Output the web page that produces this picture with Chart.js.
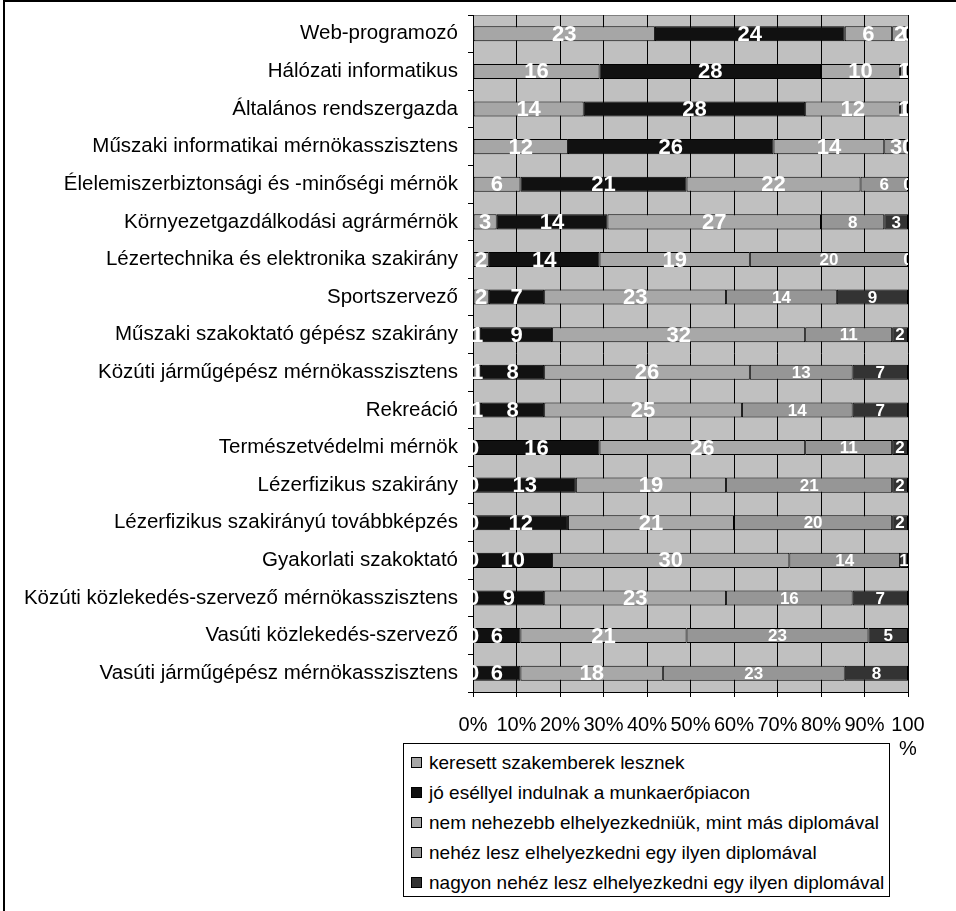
<!DOCTYPE html>
<html>
<head>
<meta charset="utf-8">
<script src="https://cdn.jsdelivr.net/npm/chart.js@4.4.0/dist/chart.umd.min.js"></script>
<style>
  body { margin: 0; background: #fff; font-family: "Liberation Sans", Arial, sans-serif; }
  #frame { position: absolute; left: 3px; top: 0; width: 2000px; height: 2000px; border-left: 2px solid #000; border-top: 2px solid #000; }
  #wrap { position: absolute; left: 0; top: 0; }
  #legend { position: absolute; left: 403px; top: 743px; width: 487px; height: 154px; border: 1px solid #000; background: #fff; padding-top: 4px; box-sizing: border-box; }
  .item { height: 30px; line-height: 30px; font-size: 19px; color: #000; white-space: nowrap; }
  .sw { display: inline-block; width: 9px; height: 9px; border: 1px solid #000; margin: 0 7px 0 7px; vertical-align: 1px; }
</style>
</head>
<body>
<div id="frame"></div>
<div id="wrap"><canvas id="chart" width="956" height="760"></canvas></div>
<div id="legend"></div>

<script>
// categories (top to bottom)
const szakok = [
  'Web-programozó',
  'Hálózati informatikus',
  'Általános rendszergazda',
  'Műszaki informatikai mérnökasszisztens',
  'Élelemiszerbiztonsági és -minőségi mérnök',
  'Környezetgazdálkodási agrármérnök',
  'Lézertechnika és elektronika szakirány',
  'Sportszervező',
  'Műszaki szakoktató gépész szakirány',
  'Közúti járműgépész mérnökasszisztens',
  'Rekreáció',
  'Természetvédelmi mérnök',
  'Lézerfizikus szakirány',
  'Lézerfizikus szakirányú továbbképzés',
  'Gyakorlati szakoktató',
  'Közúti közlekedés-szervező mérnökasszisztens',
  'Vasúti közlekedés-szervező',
  'Vasúti járműgépész mérnökasszisztens'
];

// answer counts per series
const keresett   = [23, 16, 14, 12,  6,  3,  2,  2,  1,  1,  1,  0,  0,  0,  0,  0,  0,  0];
const joEsellyel = [24, 28, 28, 26, 21, 14, 14,  7,  9,  8,  8, 16, 13, 12, 10,  9,  6,  6];
const nemNehezebb= [ 6, 10, 12, 14, 22, 27, 19, 23, 32, 26, 25, 26, 19, 21, 30, 23, 21, 18];
const nehez      = [ 2,  1,  1,  3,  6,  8, 20, 14, 11, 13, 14, 11, 21, 20, 14, 16, 23, 23];
const nagyonNehez= [ 0,  0,  0,  0,  0,  3,  0,  9,  2,  7,  7,  2,  2,  2,  1,  7,  5,  8];

const seriesNames = [
  'keresett szakemberek lesznek',
  'jó eséllyel indulnak a munkaerőpiacon',
  'nem nehezebb elhelyezkedniük, mint más diplomával',
  'nehéz lesz elhelyezkedni egy ilyen diplomával',
  'nagyon nehéz lesz elhelyezkedni egy ilyen diplomával'
];
const xTicks = [0, 10, 20, 30, 40, 50, 60, 70, 80, 90, 100];

const allSeries = [keresett, joEsellyel, nemNehezebb, nehez, nagyonNehez];
const colors = ['#a6a6a6', '#111111', '#a8a8a8', '#969696', '#333333'];

// row totals -> 100% stacking
const totals = szakok.map((s, i) => allSeries.reduce((a, ser) => a + ser[i], 0));

const FONT = '"Liberation Sans", Arial, sans-serif';

const datasets = allSeries.map((ser, k) => ({
  label: seriesNames[k],
  counts: ser,
  data: ser.map((v, i) => v / totals[i] * 100),
  backgroundColor: colors[k],
  borderColor: '#000',
  borderWidth: 1,
  borderSkipped: false,
  barPercentage: 0.4,
  categoryPercentage: 1
}));

// plot background
const plotBg = {
  id: 'plotBg',
  beforeDraw(chart) {
    const a = chart.chartArea, ctx = chart.ctx;
    ctx.save();
    ctx.fillStyle = '#c0c0c0';
    ctx.fillRect(a.left, a.top, a.right - a.left, a.bottom - a.top);
    ctx.strokeStyle = '#808080';
    ctx.lineWidth = 1;
    ctx.strokeRect(a.left + 0.5, a.top + 0.5, a.right - a.left, a.bottom - a.top);
    ctx.restore();
  }
};

// white count labels inside segments
const countLabels = {
  id: 'countLabels',
  afterDatasetsDraw(chart) {
    const a = chart.chartArea, ctx = chart.ctx;
    ctx.save();
    ctx.beginPath();
    ctx.rect(a.left, a.top, a.right - a.left, a.bottom - a.top);
    ctx.clip();
    ctx.fillStyle = '#fff';
    ctx.textAlign = 'center';
    ctx.textBaseline = 'middle';
    chart.data.datasets.forEach((ds, k) => {
      chart.getDatasetMeta(k).data.forEach((el, i) => {
        const big = k < 3 || i < 4;
        ctx.font = 'bold ' + (big ? 22 : 17) + 'px ' + FONT;
        ctx.fillText(String(ds.counts[i]), (el.x + el.base) / 2, el.y + 1);
      });
    });
    ctx.restore();
  }
};

const chart = new Chart(document.getElementById('chart'), {
  type: 'bar',
  data: { labels: szakok, datasets: datasets },
  options: {
    responsive: false,
    animation: false,
    devicePixelRatio: 1,
    indexAxis: 'y',
    layout: { padding: { top: 15, right: 48, left: 0, bottom: 0 } },
    plugins: { legend: { display: false }, tooltip: { enabled: false } },
    scales: {
      x: {
        stacked: true,
        min: 0,
        max: 100,
        afterBuildTicks: s => { s.ticks = xTicks.map(v => ({ value: v })); },
        afterFit: s => { s.height = 68; s.paddingLeft = 0; s.paddingRight = 0; },
        grid: { color: '#000', lineWidth: 1, tickLength: 5 },
        border: { color: '#000' },
        ticks: {
          autoSkip: false,
          maxRotation: 0,
          padding: 16,
          color: '#000',
          font: { family: FONT, size: 20 },
          callback: v => v === 100 ? ['100', '%'] : v + '%'
        }
      },
      y: {
        stacked: true,
        offset: true,
        afterFit: s => { s.width = 473; s.paddingTop = 0; s.paddingBottom = 0; },
        grid: { offset: true, drawOnChartArea: false, tickLength: 5, color: '#000' },
        border: { color: '#000' },
        ticks: { padding: 10, color: '#000', font: { family: FONT, size: 20.5 } }
      }
    }
  },
  plugins: [plotBg, countLabels]
});

// legend built from the datasets
const legend = document.getElementById('legend');
chart.data.datasets.forEach(ds => {
  const row = document.createElement('div');
  row.className = 'item';
  const sw = document.createElement('span');
  sw.className = 'sw';
  sw.style.background = ds.backgroundColor;
  row.appendChild(sw);
  row.appendChild(document.createTextNode(ds.label));
  legend.appendChild(row);
});
</script>
</body>
</html>
